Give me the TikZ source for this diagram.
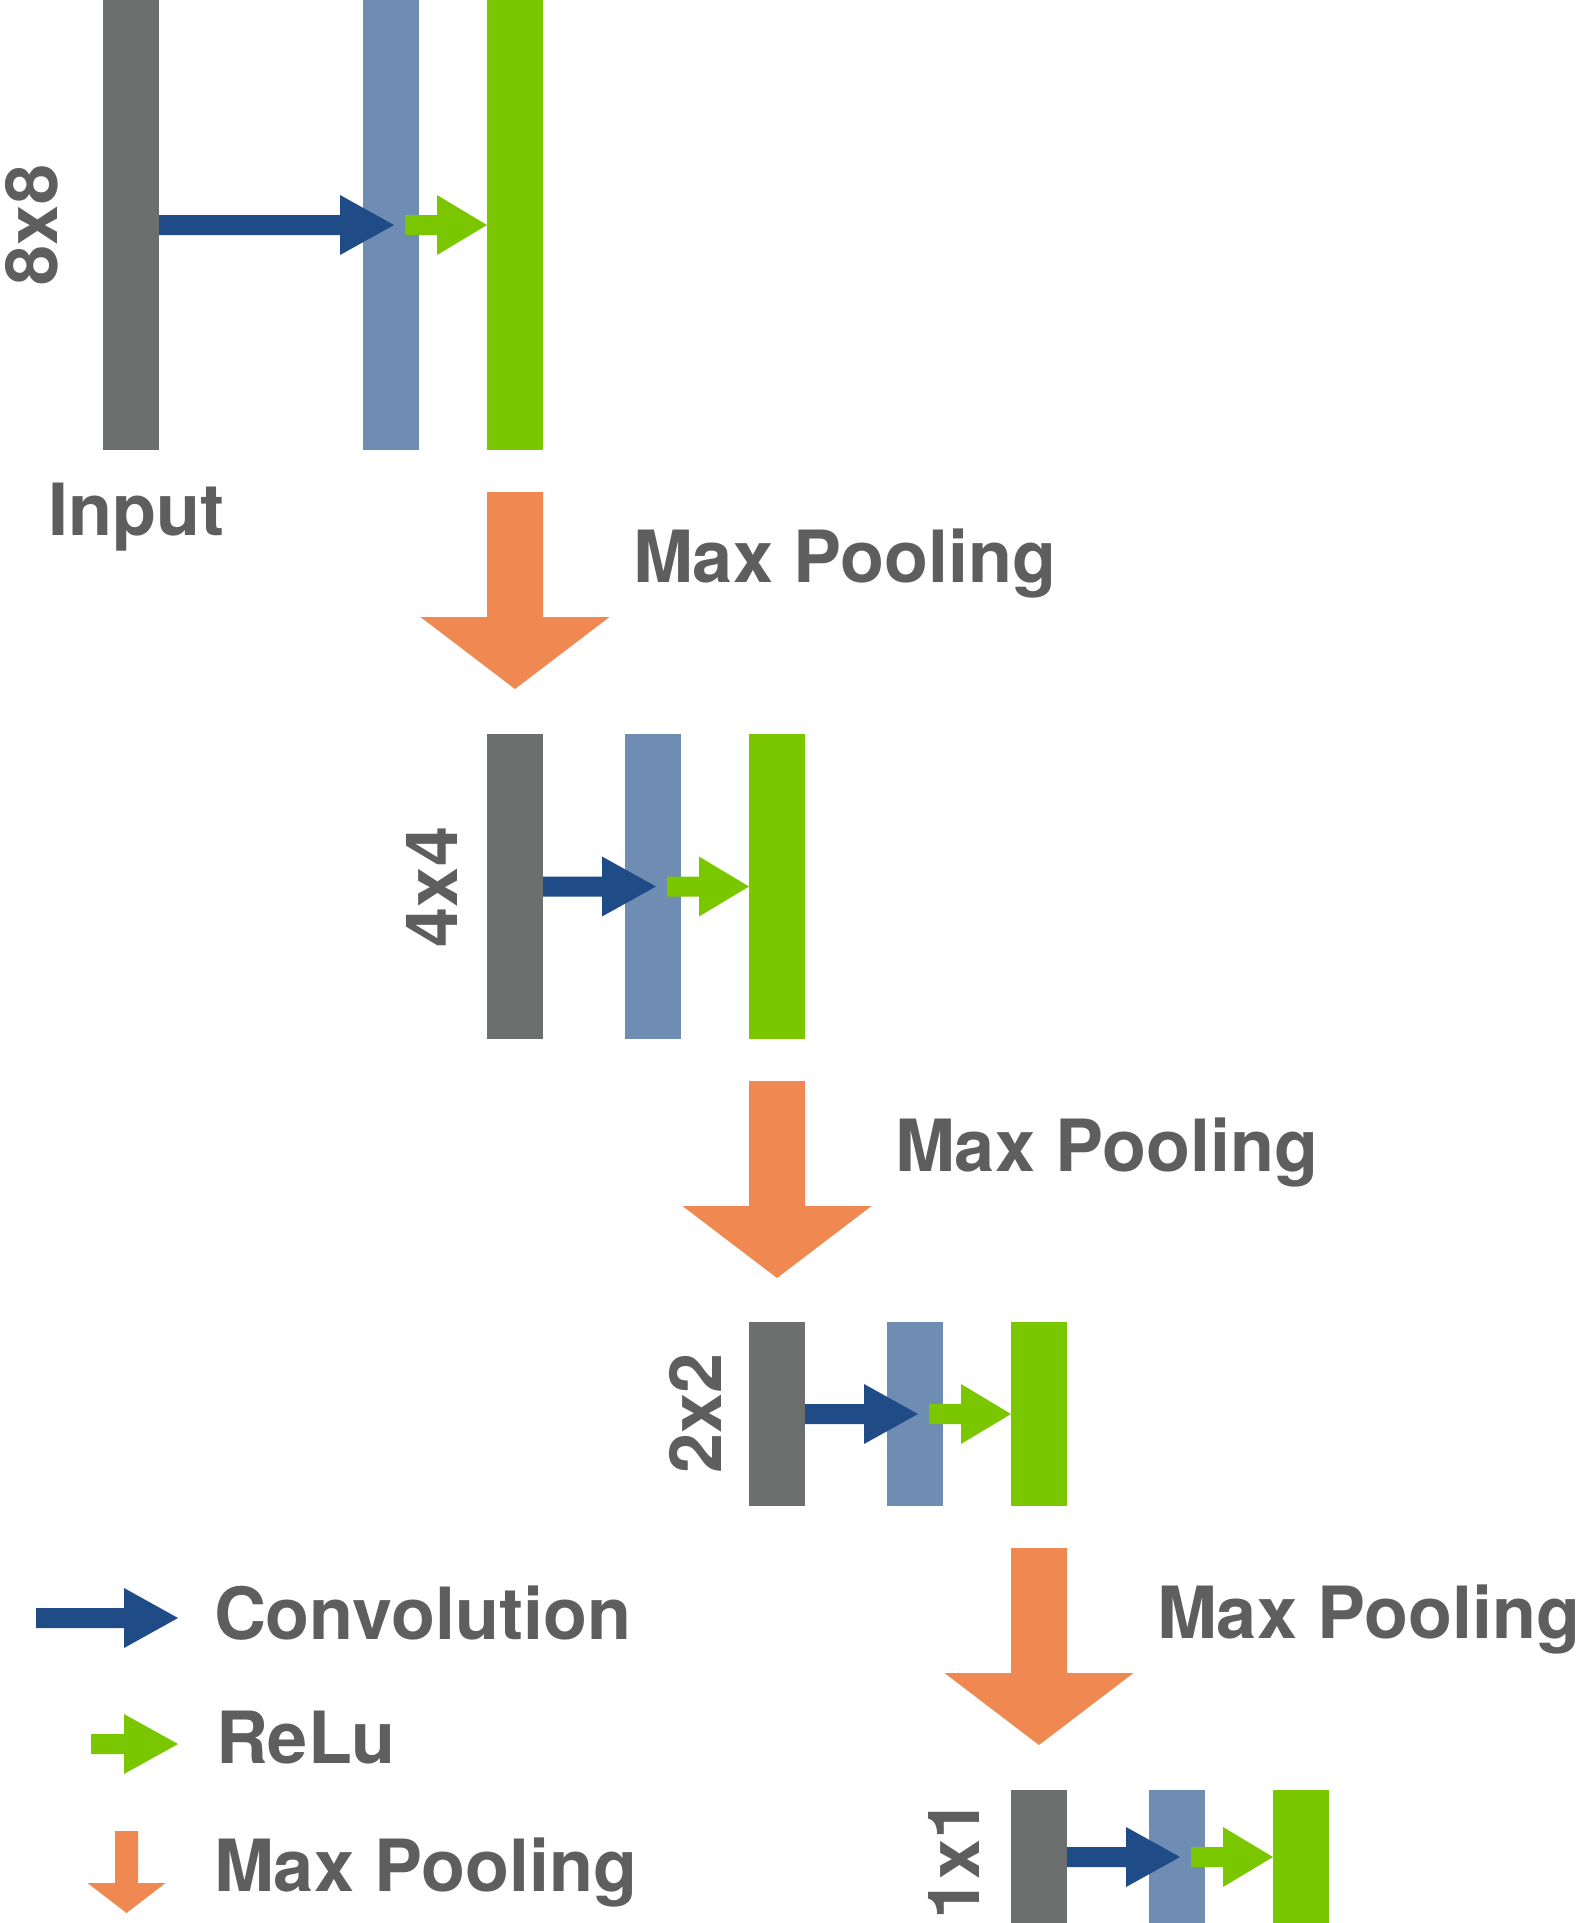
\documentclass[tikz,border=0pt]{standalone}
\usepackage{fontspec}
\setmainfont{TeX Gyre Heros}
\usetikzlibrary{calc}
\definecolor{bargray}{HTML}{6D6F6E}
\definecolor{barblue}{HTML}{6F8CB2}
\definecolor{bargreen}{HTML}{7AC700}
\definecolor{convblue}{HTML}{1F4B87}
\definecolor{poolorange}{HTML}{EF8851}
\definecolor{txtgray}{HTML}{5E5E5E}
% horizontal block arrow: colour, start, tip, head length
\newcommand{\hblockarrow}[4]{%
  \fill[#1] ($(#2)+(0,-10)$) -- ($(#3)+(-#4,-10)$) -- ($(#3)+(-#4,-30)$) -- (#3)
    -- ($(#3)+(-#4,30)$) -- ($(#3)+(-#4,10)$) -- ($(#2)+(0,10)$) -- cycle;}
% vertical block arrow: colour, top, tip, shaft half, head half, head length
\newcommand{\vblockarrow}[6]{%
  \fill[#1] ($(#2)+(-#4,0)$) -- ($(#3)+(-#4,-#6)$) -- ($(#3)+(-#5,-#6)$) -- (#3)
    -- ($(#3)+(#5,-#6)$) -- ($(#3)+(#4,-#6)$) -- ($(#2)+(#4,0)$) -- cycle;}
\begin{document}
\begin{tikzpicture}[x=1pt,y=-1pt,
  bar/.style={rectangle, minimum width=56pt, inner sep=0pt, outer sep=0pt, draw=none},
  lbl/.style={text=txtgray, font=\fontsize{72}{80}\selectfont\bfseries, inner sep=0pt, outer sep=0pt},
  dimlbl/.style={lbl, rotate=90, anchor=base}]
\useasboundingbox (0,0) rectangle (1586,1923);
% ---- bars
\node[bar, fill=bargray,  minimum height=450pt] (g1) at (131,225) {};
\node[bar, fill=barblue,  minimum height=450pt] (b1) at (391,225) {};
\node[bar, fill=bargreen, minimum height=450pt] (r1) at (515,225) {};
\node[bar, fill=bargray,  minimum height=305pt] (g2) at (515,886.5) {};
\node[bar, fill=barblue,  minimum height=305pt] (b2) at (653,886.5) {};
\node[bar, fill=bargreen, minimum height=305pt] (r2) at (777,886.5) {};
\node[bar, fill=bargray,  minimum height=184pt] (g3) at (777,1414) {};
\node[bar, fill=barblue,  minimum height=184pt] (b3) at (915,1414) {};
\node[bar, fill=bargreen, minimum height=184pt] (r3) at (1039,1414) {};
\node[bar, fill=bargray,  minimum height=134pt] (g4) at (1039,1857) {};
\node[bar, fill=barblue,  minimum height=134pt] (b4) at (1177,1857) {};
\node[bar, fill=bargreen, minimum height=134pt] (r4) at (1301,1857) {};
% ---- conv and relu arrows
\foreach \i in {1,2,3,4}{
  \coordinate (ct\i) at ($(b\i.center)+(3,0)$);
  \coordinate (rs\i) at ($(b\i.center)+(14,0)$);
  \hblockarrow{convblue}{g\i.east}{ct\i}{54}
  \hblockarrow{bargreen}{rs\i}{r\i.west}{50}
}
% ---- pooling arrows
\foreach \i in {1,2,3}{
  \coordinate (pt\i) at ($(r\i.south)+(0,42)$);
  \coordinate (pp\i) at ($(pt\i)+(0,197)$);
  \vblockarrow{poolorange}{pt\i}{pp\i}{28}{94.5}{72}
  \node[lbl, anchor=base west] (ml\i) at ($(r\i.south west)+(146,132)$) {Max Pooling};
}
% ---- dimension labels
\node[dimlbl] (d1) at (57,225) {8x8};
\node[dimlbl] (d2) at (457,887) {4x4};
\node[dimlbl] (d3) at (721,1413) {2x2};
\node[dimlbl] (d4) at (979,1859) {1x1};
\node[lbl, anchor=base west] (inp) at (48,535) {Input};
% ---- legend
\coordinate (lcs) at (36,1618);
\coordinate (lct) at (178,1618);
\hblockarrow{convblue}{lcs}{lct}{54}
\coordinate (lrs) at (91,1744);
\coordinate (lrt) at (178,1744);
\hblockarrow{bargreen}{lrs}{lrt}{54}
\coordinate (lpt) at (126.5,1831);
\coordinate (lpp) at (126.5,1913);
\vblockarrow{poolorange}{lpt}{lpp}{11.5}{39}{30}
\node[lbl, anchor=base west] (lg1) at (214,1639) {Convolution};
\node[lbl, anchor=base west] (lg2) at (216,1763) {ReLu};
\node[lbl, anchor=base west] (lg3) at (214,1891) {Max Pooling};
\end{tikzpicture}
\end{document}
